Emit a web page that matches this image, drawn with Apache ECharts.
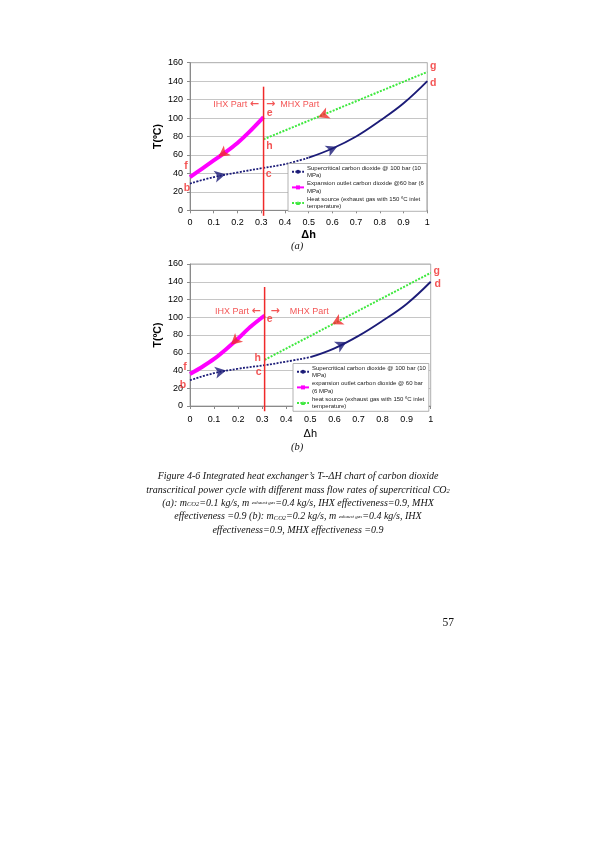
<!DOCTYPE html>
<html>
<head>
<meta charset="utf-8">
<script src="https://cdn.jsdelivr.net/npm/echarts@6/dist/echarts.min.js"></script>
<style>
  html, body { margin: 0; padding: 0; background: #fff; }
  #page { width: 595px; height: 842px; }
</style>
</head>
<body>
<div id="page"></div>
<script>
// ---- data ----
// (a) mCO2 = 0.1 kg/s
var scoXA = [0, 0.1, 0.2, 0.31, 0.4, 0.5, 0.6, 0.7, 0.8, 0.9, 1];
var scoTA = [29, 36, 41, 46, 50, 57, 67, 80, 97, 116, 140];
var expXA = [0, 0.05, 0.1, 0.15, 0.2, 0.25, 0.31];
var expTA = [36, 45, 54, 63, 73, 85, 101];
var heatXA = [0.31, 1];
var heatTA = [77, 150];
var arrowScoA = [[0.15, 39], [0.62, 69]];
var arrowExpA = [[0.12, 58]];
var arrowHeatA = [[0.54, 101]];

// (b) mCO2 = 0.2 kg/s
var scoXB = [0, 0.1, 0.2, 0.31, 0.4, 0.5, 0.6, 0.7, 0.8, 0.9, 1];
var scoTB = [29, 37, 42, 46, 50, 55, 65, 79, 96, 115, 140];
var expXB = [0, 0.05, 0.1, 0.15, 0.2, 0.25, 0.31];
var expTB = [36, 44, 53, 64, 76, 89, 102];
var heatXB = [0.31, 1];
var heatTB = [52, 150];
var arrowScoB = [[0.15, 40], [0.65, 72]];
var arrowExpB = [[0.17, 69]];
var arrowHeatB = [[0.59, 92]];

// IHX / MHX boundary line
var splitX = 0.31;
var splitRange = [-6, 134];
var partLabelT = [115, 107];

var legendA = [
  'Supercritical carbon dioxide @ 100 bar (10\nMPa)',
  'Expansion outlet carbon dioxide @60 bar (6\nMPa)',
  'Heat source (exhaust gas with 150 \u00baC inlet\ntemperature)'
];
var legendB = [
  'Supercritical carbon dioxide @ 100 bar (10\nMPa)',
  'expansion outlet carbon dioxide @ 60 bar\n(6 MPa)',
  'heat source (exhaust gas with 150 \u00baC inlet\ntemperature)'
];

var NAVY = '#1c1c78';
var RED = '#f02a2a';
var SANS = 'Liberation Sans, Arial, sans-serif';
var SERIF = 'Liberation Serif, serif';

function pairs(xs, ys, from, to) {
  var out = [];
  for (var i = from; i <= to; i++) out.push([xs[i], ys[i]]);
  return out;
}

// letter offsets (px) per chart: b c d e f g h
var letterOffsets = [
  { b: [-3, 5], c: [5, 6], d: [6, 2], e: [6, -4], f: [-4, -11], g: [6, -6], h: [6, 7] },
  { b: [-7, 5], c: [-6, 7], d: [7, 2], e: [5, 4], f: [-5, -7], g: [6, -2], h: [-7, -2] }
];
// arrow rotations (deg, ccw) along the curves
var arrowRot = [
  { sco: [-78, -66], exp: [126], heat: [112] },
  { sco: [-79, -63], exp: [132], heat: [118] }
];

function buildSeries(k, scoX, scoT, expX, expT, heatX, heatT, aSco, aExp, aHeat, names) {
  var split = scoX.indexOf(0.5);
  var cIdx = scoX.indexOf(splitX);
  var off = letterOffsets[k];
  var pts = {
    b: [scoX[0], scoT[0]],
    c: [scoX[cIdx], scoT[cIdx]],
    d: [scoX[scoX.length - 1], scoT[scoT.length - 1]],
    e: [expX[expX.length - 1], expT[expT.length - 1]],
    f: [expX[0], expT[0]],
    g: [heatX[heatX.length - 1], heatT[heatT.length - 1]],
    h: [heatX[0], heatT[0]]
  };
  var letterData = Object.keys(pts).map(function (key) {
    return {
      value: pts[key],
      label: { formatter: key, offset: off[key] }
    };
  });
  var base = { xAxisIndex: k, yAxisIndex: k, clip: false, z: 3 };
  function ext(o) { return Object.assign({}, base, o); }
  function arrowSeries(data, rots, color) {
    return ext({
      type: 'scatter', data: data, symbol: 'arrow', symbolSize: [9, 11],
      symbolRotate: function (v, p) { return rots[p.dataIndex]; },
      itemStyle: { color: color }, z: 6, silent: true
    });
  }
  return [
    ext({
      type: 'line', name: names[0], data: pairs(scoX, scoT, 0, split), smooth: 0.4,
      symbol: 'circle', symbolSize: 3, showSymbol: false,
      lineStyle: { color: NAVY, width: 1.8, type: [2, 1.4] }, itemStyle: { color: NAVY }
    }),
    ext({
      type: 'line', name: names[0], data: pairs(scoX, scoT, split, scoX.length - 1), smooth: 0.4,
      symbol: 'circle', symbolSize: 3, showSymbol: false,
      lineStyle: { color: NAVY, width: 1.9 }, itemStyle: { color: NAVY }
    }),
    ext({
      type: 'line', name: names[1], data: pairs(expX, expT, 0, expX.length - 1), smooth: 0.3,
      symbol: 'rect', symbolSize: 4, showSymbol: false,
      lineStyle: { color: '#ff00ff', width: 4 }, itemStyle: { color: '#ff00ff' }, z: 4
    }),
    ext({
      type: 'line', name: names[2], data: pairs(heatX, heatT, 0, heatX.length - 1),
      symbol: 'triangle', symbolSize: 4, showSymbol: false,
      lineStyle: { color: '#3ee83e', width: 2, type: [2, 1.4] }, itemStyle: { color: '#3ee83e' }
    }),
    ext({
      type: 'line', data: [[splitX, splitRange[0]], [splitX, splitRange[1]]],
      symbol: 'none', lineStyle: { color: RED, width: 1.5 }, z: 5, silent: true
    }),
    arrowSeries(aSco, arrowRot[k].sco, NAVY),
    arrowSeries(aExp, arrowRot[k].exp, RED),
    arrowSeries(aHeat, arrowRot[k].heat, RED),
    ext({
      type: 'scatter', data: letterData, symbolSize: 0, silent: true, z: 7,
      label: {
        show: true, position: 'inside', color: RED, fontSize: 10.5,
        fontWeight: 'bold', fontFamily: SANS
      }
    }),
    ext({
      type: 'scatter', symbolSize: 0, silent: true, z: 7,
      data: [
        { value: [splitX, partLabelT[k]], label: { position: 'left', distance: k ? 4 : 4.5, formatter: 'IHX Part {a|\u2190}' } },
        { value: [splitX, partLabelT[k]], label: { position: 'right', distance: k ? 6 : 2.5, formatter: '{a|\u2192}' + (k ? '    ' : '  ') + 'MHX Part' } }
      ],
      label: {
        show: true, color: RED, fontSize: 9, fontFamily: SANS,
        rich: { a: { fontFamily: 'DejaVu Sans', fontWeight: 'bold', fontSize: 11, color: RED } }
      }
    })
  ];
}

function mkX(k, weight, gap, margin) {
  return {
    gridIndex: k, type: 'value', min: 0, max: 1, interval: 0.1,
    name: '\u0394h', nameLocation: 'middle', nameGap: gap,
    nameTextStyle: { color: '#000', fontSize: 11, fontWeight: weight, fontFamily: SANS },
    axisLine: { lineStyle: { color: '#8a8a8a', width: 1 } },
    axisTick: { show: true, length: 3, lineStyle: { color: '#8a8a8a' } },
    axisLabel: { color: '#000', fontSize: 9, fontFamily: SANS, margin: margin },
    splitLine: { show: false }
  };
}
function mkY(k, weight) {
  return {
    gridIndex: k, type: 'value', min: 0, max: 160, interval: 20,
    name: 'T(\u00baC)', nameLocation: 'middle', nameGap: 22, nameRotate: 90,
    nameTextStyle: { color: '#000', fontSize: 10.5, fontWeight: weight, fontFamily: SANS },
    axisLine: { show: true, lineStyle: { color: '#8a8a8a', width: 1 } },
    axisTick: { show: true, length: 3, lineStyle: { color: '#8a8a8a' } },
    axisLabel: { color: '#000', fontSize: 9, fontFamily: SANS, margin: 7 },
    splitLine: { show: true, lineStyle: { color: '#b8b8b8', width: 0.8 } }
  };
}
function mkLegend(names, left, top) {
  return {
    data: names, orient: 'vertical', left: left, top: top,
    backgroundColor: '#fff', borderColor: '#a0a0a0', borderWidth: 0.8,
    padding: [1, 3, 1, 3], itemGap: 1, itemWidth: 12, itemHeight: 5,
    selectedMode: false,
    textStyle: { fontSize: 6, lineHeight: 7.3, color: '#222', fontFamily: SANS, padding: [0, 0, 0, -2] }
  };
}

var captionRich = {
  s: { fontSize: 6.5, fontFamily: SERIF, fontStyle: 'italic', verticalAlign: 'bottom' },
  t: { fontSize: 5, fontFamily: SERIF, fontStyle: 'italic' }
};
var captionLines = [
  'Figure 4-6 Integrated heat exchanger\u2019s T--\u0394H chart of carbon dioxide',
  'transcritical power cycle with different mass flow rates of supercritical CO{s|2}',
  '(a): m{s|CO2}=0.1 kg/s, m {t|exhaust gas}=0.4 kg/s, IHX effectiveness=0.9, MHX',
  'effectiveness =0.9 (b): m{s|CO2}=0.2 kg/s, m {t|exhaust gas}=0.4 kg/s, IHX',
  'effectiveness=0.9, MHX effectiveness =0.9'
];
var captionY = [476, 490, 503, 516.5, 530];

function textEl(x, y, text, size, style, align, rich) {
  return {
    type: 'text', x: x, y: y, silent: true,
    style: {
      text: text, fontSize: size, fontFamily: SERIF, fontStyle: style,
      fill: '#111', align: align, verticalAlign: 'middle', rich: rich
    }
  };
}

var graphics = captionLines.map(function (t, i) {
  return textEl(298, captionY[i], t, 10, 'italic', 'center', captionRich);
});
graphics.push(textEl(297, 246, '(a)', 10.5, 'italic', 'center'));
graphics.push(textEl(297, 447, '(b)', 10.5, 'italic', 'center'));
graphics.push(textEl(454, 623, '57', 11.5, 'normal', 'right'));

var option = {
  animation: false,
  backgroundColor: '#fff',
  grid: [
    { left: 190, top: 62.7, width: 237.3, height: 147.6, show: true, borderColor: '#9a9a9a', borderWidth: 0.8 },
    { left: 190, top: 264, width: 240.7, height: 142, show: true, borderColor: '#9a9a9a', borderWidth: 0.8 }
  ],
  xAxis: [mkX(0, 'bold', 19, 8), mkX(1, 'normal', 22, 9)],
  yAxis: [mkY(0, 'bold'), mkY(1, 'bold')],
  legend: [mkLegend(legendA, 288, 163.5), mkLegend(legendB, 293, 363.5)],
  series: [].concat(
    buildSeries(0, scoXA, scoTA, expXA, expTA, heatXA, heatTA, arrowScoA, arrowExpA, arrowHeatA, legendA),
    buildSeries(1, scoXB, scoTB, expXB, expTB, heatXB, heatTB, arrowScoB, arrowExpB, arrowHeatB, legendB)
  ),
  graphic: graphics
};

var chart = echarts.init(document.getElementById('page'));
chart.setOption(option);
window.addEventListener('resize', function () { chart.resize(); });
</script>
</body>
</html>
